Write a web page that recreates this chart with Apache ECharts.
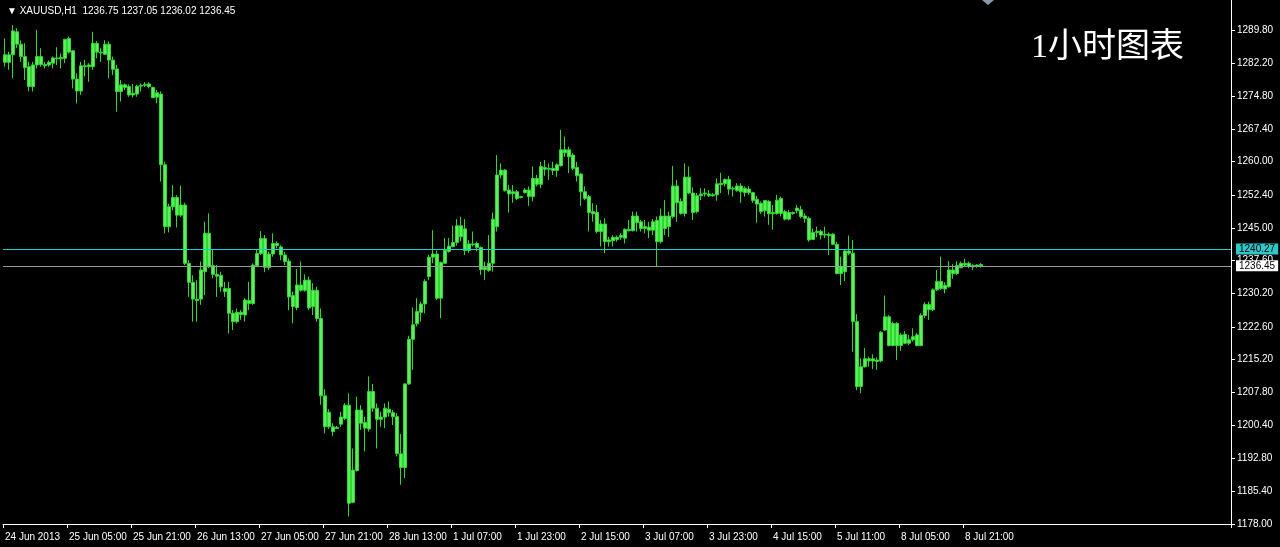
<!DOCTYPE html>
<html>
<head>
<meta charset="utf-8">
<script src="https://cdn.jsdelivr.net/npm/echarts@6/dist/echarts.min.js"></script>
<style>
html,body{margin:0;padding:0;background:#000;}
#chart{width:1280px;height:547px;}
</style>
</head>
<body>
<div id="chart"></div>
<script>
// ---- data ----
const symbolName = 'XAUUSD,H1';
const chartTitle = '1小时图表';
// time labels every 16 hourly bars
const timeLabels = ['24 Jun 2013','25 Jun 05:00','25 Jun 21:00','26 Jun 13:00','27 Jun 05:00','27 Jun 21:00','28 Jun 13:00','1 Jul 07:00','1 Jul 23:00','2 Jul 15:00','3 Jul 07:00','3 Jul 23:00','4 Jul 15:00','5 Jul 11:00','8 Jul 05:00','8 Jul 21:00'];
const labelEvery = 16;
const totalSlots = 307; // bars + empty right margin of chart
// price scale labels
const priceTicks = [1178.00,1185.40,1192.80,1200.40,1207.80,1215.20,1222.60,1230.20,1237.60,1245.00,1252.40,1260.00,1267.40,1274.80,1282.20,1289.80];
const priceMin = 1178.0, priceMax = 1296.6;
// horizontal levels
const bidLine = 1240.27;
const lastLine = 1236.45;
// hourly candles [open, close, low, high]
const ohlc = [
[1282.5,1284.2,1281.5,1287.9],[1282.5,1284.2,1280.8,1284.9],[1284.2,1289.6,1278.9,1290.9],[1289.4,1286.6,1285.7,1290.2],
[1286.6,1283.8,1282.6,1287.5],[1283.8,1281.3,1278.5,1286.8],[1281.5,1277.0,1275.9,1282.6],[1277.0,1281.9,1275.9,1282.6],
[1281.9,1283.8,1281.1,1289.8],[1283.8,1282.0,1281.5,1285.7],[1282.0,1281.7,1281.1,1282.6],[1281.9,1282.5,1281.5,1282.9],
[1282.3,1283.5,1281.1,1283.8],[1283.5,1283.3,1281.9,1285.9],[1283.3,1283.6,1281.1,1284.5],[1283.4,1287.7,1282.3,1287.8],
[1284.8,1287.9,1284.5,1288.3],[1285.1,1278.7,1276.6,1285.3],[1278.7,1276.0,1273.2,1280.0],[1276.0,1281.7,1275.1,1282.6],
[1281.7,1281.5,1279.3,1283.0],[1281.5,1281.9,1278.1,1282.3],[1281.5,1286.8,1280.8,1289.4],[1286.8,1284.8,1283.4,1287.3],
[1284.8,1284.6,1282.6,1285.7],[1284.3,1286.6,1284.2,1287.5],[1286.6,1283.0,1278.9,1287.2],[1283.0,1280.9,1279.6,1283.8],
[1281.0,1275.9,1271.3,1281.9],[1275.9,1277.4,1273.6,1278.5],[1277.4,1276.8,1276.2,1277.7],[1277.0,1275.1,1274.7,1277.5],
[1275.1,1275.5,1274.5,1277.6],[1275.3,1277.1,1274.7,1277.4],[1277.1,1277.3,1275.9,1277.7],[1277.3,1277.5,1276.9,1278.0],
[1277.6,1277.0,1276.6,1278.0],[1276.8,1274.5,1274.4,1277.0],[1274.6,1275.6,1273.2,1276.2],[1275.3,1259.3,1255.5,1275.9],
[1259.3,1245.3,1243.8,1260.0],[1245.3,1249.8,1244.0,1250.5],[1249.8,1251.9,1249.0,1254.7],[1251.9,1247.9,1245.1,1252.4],
[1247.9,1250.2,1247.5,1254.6],[1250.2,1237.0,1236.6,1250.7],[1237.0,1232.7,1229.4,1237.7],[1232.7,1228.9,1223.8,1234.3],
[1228.9,1228.6,1223.8,1233.2],[1228.9,1235.5,1227.6,1237.4],[1235.1,1243.8,1229.8,1246.4],[1243.8,1236.2,1235.9,1248.3],
[1236.5,1234.5,1233.6,1240.0],[1234.5,1234.1,1229.4,1236.6],[1234.3,1231.7,1230.6,1235.1],[1231.3,1230.6,1229.4,1232.8],
[1231.3,1225.7,1221.1,1232.8],[1225.7,1223.8,1221.9,1226.4],[1223.8,1225.9,1223.4,1226.8],[1225.9,1225.4,1224.2,1226.4],
[1225.3,1228.7,1223.8,1229.1],[1228.6,1227.9,1226.4,1232.8],[1227.9,1236.6,1227.6,1237.0],[1236.5,1239.2,1236.2,1240.0],
[1239.2,1242.6,1238.9,1244.3],[1242.6,1236.1,1235.0,1243.4],[1236.0,1239.1,1235.5,1239.6],[1239.1,1241.5,1238.5,1243.8],
[1241.5,1241.0,1240.4,1242.0],[1240.7,1238.9,1237.7,1241.1],[1238.9,1237.4,1236.6,1239.6],[1237.5,1229.4,1226.4,1238.1],
[1229.7,1227.2,1223.4,1230.6],[1227.0,1232.1,1226.4,1235.7],[1232.1,1230.9,1230.6,1237.4],[1230.9,1233.2,1230.6,1234.5],
[1233.2,1226.9,1226.4,1234.0],[1227.2,1230.9,1225.3,1232.5],[1230.9,1224.5,1223.8,1231.7],[1224.5,1207.0,1205.0,1226.8],
[1207.0,1200.0,1198.5,1208.5],[1200.0,1203.3,1199.5,1204.0],[1198.9,1200.0,1197.9,1200.8],[1199.9,1199.6,1199.5,1200.2],
[1200.6,1202.2,1200.0,1203.4],[1201.9,1204.9,1201.5,1205.3],[1204.9,1182.7,1179.7,1207.6],[1182.9,1190.2,1182.7,1195.1],
[1190.1,1203.8,1189.9,1206.8],[1203.8,1200.8,1199.3,1204.9],[1201.0,1199.7,1194.4,1202.3],[1199.5,1208.0,1198.9,1211.4],
[1208.0,1204.2,1203.4,1209.7],[1204.2,1201.7,1195.1,1205.3],[1201.7,1202.2,1200.0,1203.4],[1202.2,1204.2,1199.7,1205.3],
[1204.0,1203.2,1202.3,1205.7],[1203.2,1202.3,1200.4,1203.8],[1202.3,1193.9,1193.3,1203.1],[1193.9,1190.8,1186.9,1198.4],
[1190.8,1209.7,1188.4,1209.9],[1209.7,1219.8,1209.5,1220.6],[1219.8,1223.1,1212.9,1227.0],[1223.3,1226.1,1222.7,1229.1],
[1225.9,1227.8,1223.8,1228.3],[1227.8,1232.9,1225.7,1233.4],[1234.0,1238.4,1233.2,1238.9],[1238.4,1239.1,1237.0,1244.5],
[1239.1,1229.1,1228.7,1239.9],[1229.1,1237.2,1224.6,1237.4],[1237.0,1239.9,1237.0,1242.7],[1239.7,1240.9,1239.4,1242.7],
[1240.8,1241.7,1240.6,1245.5],[1241.7,1245.5,1241.0,1247.0],[1245.5,1243.0,1242.0,1247.5],[1244.8,1239.9,1238.9,1247.0],
[1239.9,1241.4,1239.4,1242.3],[1241.4,1241.2,1240.8,1244.2],[1241.5,1240.6,1239.7,1241.9],[1240.6,1235.6,1234.4,1240.8],
[1235.6,1236.1,1233.2,1237.4],[1235.4,1237.0,1235.1,1243.4],[1237.0,1247.0,1235.1,1248.5],[1245.3,1257.0,1244.2,1261.5],
[1257.0,1258.1,1256.2,1259.6],[1258.1,1253.5,1253.2,1258.3],[1253.6,1252.7,1248.5,1254.7],[1252.8,1253.2,1250.7,1254.7],
[1253.2,1251.7,1251.3,1253.6],[1251.9,1252.1,1251.7,1252.3],[1253.0,1253.6,1252.8,1254.0],[1253.6,1252.1,1250.0,1254.4],
[1252.1,1256.2,1251.0,1258.9],[1256.2,1254.9,1254.4,1257.0],[1254.9,1258.9,1254.0,1260.0],[1258.7,1258.3,1256.8,1260.4],
[1258.3,1258.5,1255.9,1259.6],[1258.5,1258.0,1257.0,1260.0],[1258.0,1259.3,1256.6,1259.6],[1259.1,1262.7,1258.9,1267.2],
[1262.7,1262.0,1261.1,1265.7],[1262.7,1261.1,1257.4,1263.4],[1261.5,1258.5,1258.1,1261.9],[1258.7,1256.8,1255.5,1260.0],
[1257.2,1253.2,1250.0,1257.4],[1253.2,1251.7,1251.3,1254.4],[1252.1,1248.5,1244.2,1252.5],[1248.7,1248.2,1246.4,1250.6],
[1248.5,1244.2,1243.8,1250.2],[1244.2,1245.9,1240.8,1246.8],[1245.9,1241.9,1239.3,1247.2],[1241.9,1242.3,1240.8,1243.0],
[1242.1,1242.9,1240.8,1243.4],[1242.9,1242.4,1241.9,1243.3],[1242.9,1243.3,1242.3,1243.8],[1242.7,1244.7,1241.5,1244.9],
[1244.7,1244.4,1244.2,1246.8],[1244.4,1247.7,1244.2,1248.7],[1247.7,1246.2,1244.2,1248.7],[1246.4,1244.9,1244.2,1246.8],
[1244.9,1245.3,1243.8,1246.8],[1245.2,1244.5,1242.7,1246.4],[1244.5,1246.4,1243.4,1247.0],[1246.7,1241.9,1236.4,1247.6],
[1241.9,1247.7,1241.5,1249.4],[1247.7,1244.9,1243.4,1251.3],[1245.3,1247.7,1243.0,1248.7],[1247.6,1254.5,1247.2,1259.0],
[1254.5,1250.7,1246.4,1255.9],[1251.0,1248.3,1248.0,1251.7],[1248.3,1256.5,1247.6,1259.6],[1256.5,1252.9,1252.7,1258.9],
[1252.9,1248.5,1246.8,1254.2],[1248.7,1252.3,1248.3,1252.9],[1252.3,1252.7,1251.3,1254.0],[1252.7,1252.9,1252.1,1254.0],
[1252.7,1252.3,1252.0,1253.6],[1252.3,1252.5,1252.1,1252.9],[1252.5,1255.0,1251.2,1256.2],[1254.8,1255.1,1252.9,1257.5],
[1255.0,1256.0,1254.4,1256.2],[1256.0,1253.8,1252.5,1256.8],[1253.8,1254.0,1252.1,1254.4],[1253.5,1254.5,1253.2,1255.1],
[1254.5,1253.2,1250.7,1255.1],[1254.0,1253.0,1252.1,1254.4],[1253.0,1253.8,1252.5,1254.5],[1253.0,1251.2,1250.7,1253.2],
[1251.5,1250.4,1246.2,1252.3],[1250.6,1248.7,1248.2,1251.0],[1248.9,1251.2,1247.6,1251.3],[1251.0,1248.2,1245.7,1251.3],
[1248.2,1248.5,1244.6,1250.2],[1248.3,1251.3,1248.0,1252.5],[1251.7,1248.3,1247.6,1252.1],[1248.7,1247.0,1246.7,1249.1],
[1247.0,1248.5,1246.7,1249.1],[1248.5,1248.3,1248.0,1248.7],[1248.9,1249.5,1248.3,1250.2],[1249.1,1247.6,1247.2,1250.0],
[1247.7,1247.2,1246.2,1248.3],[1247.2,1242.3,1241.9,1247.6],[1242.4,1244.0,1242.3,1244.9],[1244.0,1244.2,1242.9,1245.3],
[1244.2,1243.4,1242.4,1244.6],[1243.4,1243.6,1242.7,1245.3],[1243.6,1243.3,1238.9,1244.0],[1243.6,1241.3,1241.2,1243.8],
[1241.3,1234.7,1234.5,1241.9],[1234.7,1236.3,1232.1,1238.5],[1235.1,1239.8,1233.0,1240.0],[1239.8,1239.3,1238.9,1243.3],
[1239.3,1223.8,1217.0,1242.3],[1223.8,1209.1,1208.3,1225.5],[1209.1,1213.6,1207.6,1215.5],[1213.6,1215.4,1213.4,1217.8],
[1215.4,1214.9,1213.6,1215.9],[1214.9,1215.4,1213.1,1216.4],[1215.1,1214.8,1212.9,1215.7],[1214.9,1221.4,1214.6,1221.7],
[1221.9,1224.9,1221.7,1229.7],[1224.9,1218.4,1218.2,1225.3],[1218.4,1223.4,1218.2,1223.8],[1223.4,1218.4,1215.1,1223.7],
[1218.4,1220.8,1217.2,1221.2],[1220.9,1218.9,1218.7,1221.7],[1218.9,1219.7,1218.5,1220.8],[1219.7,1220.4,1219.3,1222.3],
[1220.8,1218.4,1218.2,1221.2],[1218.4,1225.2,1218.2,1225.7],[1225.2,1227.7,1224.6,1228.2],[1227.7,1226.5,1224.2,1228.3],
[1226.5,1231.0,1226.2,1231.3],[1231.0,1232.9,1230.7,1235.5],[1232.9,1231.3,1231.0,1238.5],[1231.2,1232.0,1230.2,1232.7],
[1231.7,1235.5,1231.5,1237.5],[1235.5,1234.7,1233.5,1236.8],[1234.7,1236.5,1234.4,1237.5],[1236.0,1237.0,1235.9,1237.4],
[1237.0,1236.6,1236.3,1238.0],[1236.3,1237.0,1235.9,1237.4],[1236.5,1236.2,1235.5,1236.8],[1236.3,1236.6,1236.0,1236.8],
[1236.75,1236.45,1236.02,1237.05]
];

// ---- chart ----
const slots = Array.from({length: totalSlots}, (_, i) => i);
const last = ohlc[ohlc.length - 1];
const headerText = '\u25BC ' + symbolName + '  ' + [last[0], last[3], last[2], last[1]].map(v => v.toFixed(2)).join(' ');
const FONT = '"Liberation Sans", "DejaVu Sans", sans-serif';
const showTick = (i) => i % labelEvery === 0 && i / labelEvery < timeLabels.length;

function levelSeries(value, lineColor, tagColor) {
  return {
    type: 'line', data: [], silent: true, symbol: 'none',
    lineStyle: {color: lineColor}, itemStyle: {color: lineColor},
    markLine: {
      symbol: 'none', silent: true, animation: false,
      emphasis: {disabled: true},
      lineStyle: {color: lineColor, width: 1, type: 'solid', opacity: 1},
      label: {show: true, position: 'end', distance: 5, formatter: value.toFixed(2), backgroundColor: tagColor, color: '#000', fontSize: 10, fontFamily: FONT, padding: [1, 3, 0, 3]},
      data: [{yAxis: value}]
    }
  };
}

const chart = echarts.init(document.getElementById('chart'), null, {renderer: 'canvas'});
chart.setOption({
  animation: false,
  backgroundColor: '#000',
  title: [
    {text: headerText, left: 2, top: 1, textStyle: {color: '#fff', fontSize: 10, fontWeight: 'normal', fontFamily: FONT}},
    {text: chartTitle, left: 1026, top: 26, textStyle: {color: '#fff', fontSize: 34, fontWeight: 'normal', fontFamily: '"Liberation Serif", "Noto Sans CJK SC", serif'}}
  ],
  graphic: [
    {type: 'polygon', shape: {points: [[982, 0], [994, 0], [988, 5]]}, style: {fill: '#8c98a8'}, silent: true}
  ],
  grid: {left: 3, right: 49, top: 0, bottom: 23, containLabel: false},
  xAxis: {
    type: 'category',
    data: slots,
    boundaryGap: true,
    axisLine: {show: true, lineStyle: {color: '#fff', width: 1}},
    axisTick: {show: true, length: 4, lineStyle: {color: '#fff'}, interval: showTick},
    axisLabel: {
      show: true, color: '#fff', fontSize: 10, fontFamily: FONT, align: 'left', margin: 8,
      interval: showTick,
      formatter: (v, i) => timeLabels[i / labelEvery] || ''
    },
    splitLine: {show: false}
  },
  yAxis: {
    type: 'value',
    position: 'right',
    min: priceMin,
    max: priceMax,
    scale: true,
    axisLine: {show: true, lineStyle: {color: '#fff', width: 1}},
    axisTick: {show: true, length: 4, inside: false, customValues: priceTicks, lineStyle: {color: '#fff'}},
    axisLabel: {show: true, color: '#fff', fontSize: 10, fontFamily: FONT, margin: 6, customValues: priceTicks, formatter: (v) => v.toFixed(2)},
    splitLine: {show: false}
  },
  series: [
    levelSeries(bidLine, '#1fcfcf', '#2fc8c8'),
    levelSeries(lastLine, '#9a9a9a', '#ffffff'),
    {
      type: 'candlestick',
      data: ohlc,
      barWidth: 3,
      itemStyle: {color: '#5cf05c', color0: '#5cf05c', borderColor: '#2fd82f', borderColor0: '#2fd82f', borderWidth: 1}
    }
  ]
});
</script>
</body>
</html>
